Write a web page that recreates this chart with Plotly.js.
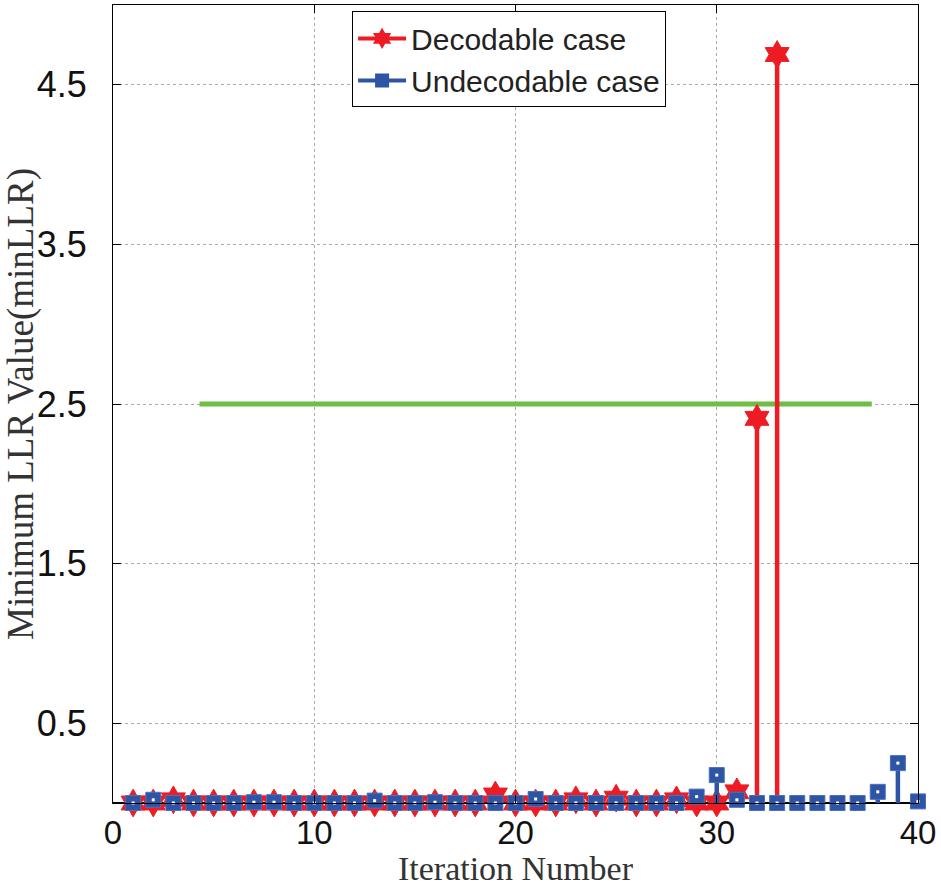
<!DOCTYPE html>
<html><head><meta charset="utf-8">
<script src="https://cdn.plot.ly/plotly-3.0.1.min.js"></script>
<style>html,body{margin:0;padding:0;background:#fff}#chart{width:941px;height:887px}</style>
</head><body><div id="chart"></div>
<script>
// Data
const decodableIter = [1,2,3,4,5,6,7,8,9,10,11,12,13,14,15,16,17,18,19,20,21,22,23,24,25,26,27,28,29,30,31,32,33];
const decodableLLR  = [0,0,0.02,0,0,0,0,0,0,0,0,0,0,0,0,0,0,0,0.05,0,0,0,0.02,0,0.03,0,0,0.02,0,0,0.07,2.41,4.69];
const undecodableIter = [1,2,3,4,5,6,7,8,9,10,11,12,13,14,15,16,17,18,19,20,21,22,23,24,25,26,27,28,29,30,31,32,33,34,35,36,37,38,39,40];
const undecodableLLR  = [0,0.02,0,0,0,0,0.005,0.005,0,0,0,0,0.015,0,0,0.005,0,0,0,0,0.025,0,0,0,0,0,0,0,0.04,0.175,0.02,0,0,0,0,0,0,0.07,0.25,0.01];
const thresholdX = [4.3, 37.7];
const thresholdY = [2.5, 2.5];
const xTicks = [0,10,20,30,40];
const yTicks = [0.5,1.5,2.5,3.5,4.5];

const RED = '#ED1C24', BLUE = '#2E54A6', GREEN = '#6CBE45';
const SANS = 'Liberation Sans, Arial, sans-serif';
const SERIF = 'Liberation Serif, Times New Roman, serif';

function stems(xs, ys){
  const sx=[], sy=[];
  xs.forEach((x,i)=>{ sx.push(x,x,null); sy.push(0,ys[i],null); });
  return {sx, sy};
}
const r = stems(decodableIter, decodableLLR);
const b = stems(undecodableIter, undecodableLLR);

const traces = [
  {x: thresholdX, y: thresholdY, mode:'lines', line:{color:GREEN, width:5}, showlegend:false, hoverinfo:'skip'},
  {x: [0,40], y:[0,0], mode:'lines', line:{color:'#000', width:2}, showlegend:false, hoverinfo:'skip', cliponaxis:false},
  {x: r.sx, y: r.sy, mode:'lines', line:{color:RED, width:4.5}, showlegend:false, legendgroup:'d'},
  {x: decodableIter, y: decodableLLR, mode:'markers', cliponaxis:false, marker:{symbol:'hexagram', size:21, color:RED, line:{color:RED,width:1}}, showlegend:false, legendgroup:'d'},
  {x: b.sx, y: b.sy, mode:'lines', line:{color:BLUE, width:4.5}, showlegend:false, legendgroup:'u'},
  {x: undecodableIter, y: undecodableLLR, mode:'markers', cliponaxis:false, marker:{symbol:'square', size:15, color:BLUE, line:{color:'#4a6fc0',width:1}}, showlegend:false, legendgroup:'u'},
  {x: undecodableIter, y: undecodableLLR, mode:'markers', cliponaxis:false, marker:{symbol:'square', size:3, color:'#fff', line:{width:0}}, showlegend:false, hoverinfo:'skip'},
  {x:[null], y:[null], mode:'lines+markers', name:'Decodable case', line:{color:RED,width:4}, marker:{symbol:'hexagram', size:20, color:RED}, legendgroup:'d'},
  {x:[null], y:[null], mode:'lines+markers', name:'Undecodable case', line:{color:BLUE,width:4}, marker:{symbol:'square', size:14, color:BLUE}, legendgroup:'u'}
];

const layout = {
  width:941, height:887,
  margin:{l:113, r:23, t:5, b:84},
  paper_bgcolor:'#fff', plot_bgcolor:'#fff',
  showlegend:true,
  legend:{x:0.297, y:0.992, xanchor:'left', yanchor:'top', bgcolor:'#fff', bordercolor:'#000', borderwidth:1,
          font:{family:SANS, size:30, color:'#222'}, itemwidth:48, tracegroupgap:0},
  xaxis:{range:[0,40], tickvals:xTicks, ticktext:xTicks.map(String), ticks:'inside', ticklen:8, tickcolor:'#000',
         showline:true, linecolor:'#000', linewidth:1, mirror:'ticks', zeroline:false,
         showgrid:true, gridcolor:'#aaa', griddash:'dot', gridwidth:1,
         tickfont:{family:SANS, size:33, color:'#111'},
         title:{text:'Iteration Number', font:{family:SERIF, size:34, color:'#333'}, standoff:9}},
  yaxis:{range:[0,5], tickvals:yTicks, ticktext:yTicks.map(String), ticks:'inside', ticklen:8, tickcolor:'#000',
         showline:true, linecolor:'#000', linewidth:1, mirror:'ticks', zeroline:false,
         showgrid:true, gridcolor:'#aaa', griddash:'dot', gridwidth:1, ticklabelstandoff:18,
         tickfont:{family:SANS, size:36, color:'#111'},
         title:{text:'Minimum LLR Value(minLLR)', font:{family:SERIF, size:37, color:'#333'}, standoff:6}}
};
Plotly.newPlot('chart', traces, layout, {displayModeBar:false, staticPlot:true});
</script></body></html>
